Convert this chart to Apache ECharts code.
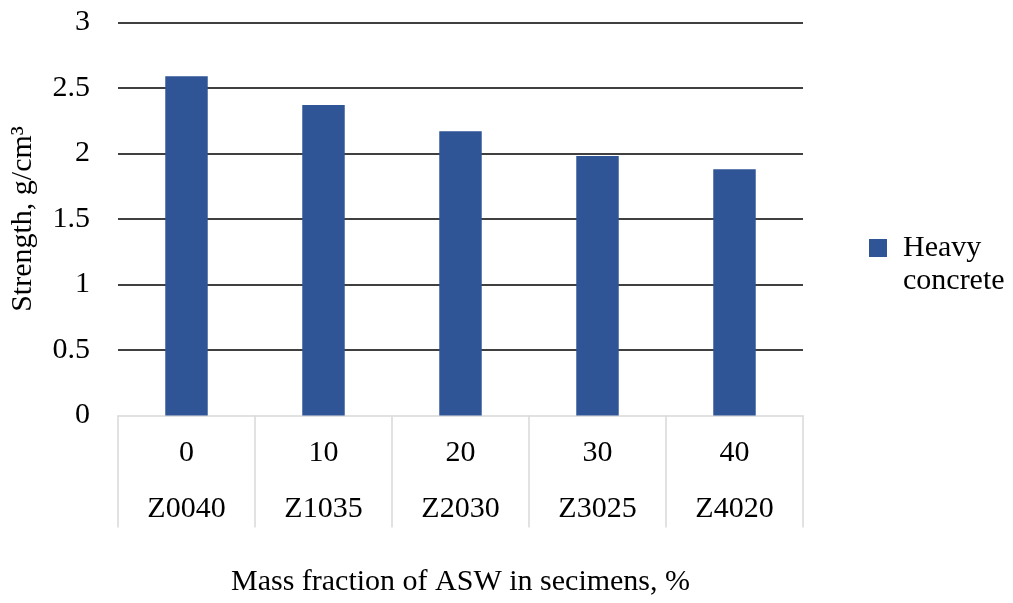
<!DOCTYPE html>
<html>
<head>
<meta charset="utf-8">
<script src="https://cdn.jsdelivr.net/npm/echarts@6/dist/echarts.min.js"></script>
<style>html,body{margin:0;padding:0;background:#fff;}#c{width:1013px;height:603px;}</style>
</head>
<body>
<div id="c"></div>
<script>
const fractions = ['0', '10', '20', '30', '40'];
const specimens = ['Z0040', 'Z1035', 'Z2030', 'Z3025', 'Z4020'];
const heavyConcrete = [2.59, 2.37, 2.17, 1.98, 1.88];
const seriesName = 'Heavy concrete';
const yTitle = 'Strength, g/cm³';
const xTitle = 'Mass fraction of ASW in secimens, %';

const FONT = 'Liberation Serif';
const FS = 30;
const chart = echarts.init(document.getElementById('c'));
chart.setOption({
  animation: false,
  backgroundColor: '#fff',
  textStyle: { fontFamily: FONT, color: '#000' },
  grid: { left: 118, right: 210, top: 22.5, bottom: 187.5, containLabel: false },
  legend: {
    left: 864, top: 193.5,
    itemWidth: 18, itemHeight: 18,
    icon: 'rect',
    formatter: (name) => {
      const parts = name.split(' ');
      return '{s| }\n' + parts.map(p => '{t|' + p + '}').join('\n');
    },
    textStyle: {
      fontFamily: FONT, fontSize: FS, color: '#000', lineHeight: 33,
      rich: {
        s: { fontFamily: FONT, fontSize: FS, lineHeight: 33 },
        t: { fontFamily: FONT, fontSize: FS, color: '#000', lineHeight: 33, padding: [0, 0, 0, 11] }
      }
    }
  },
  xAxis: [
    {
      type: 'category', data: fractions, position: 'bottom',
      axisLine: { show: true, lineStyle: { color: '#d9d9d9', width: 1.5 } },
      axisTick: { show: true, length: 112, lineStyle: { color: '#d9d9d9', width: 1.5 } },
      axisLabel: { margin: 23, fontFamily: FONT, fontSize: FS, color: '#000' }
    },
    {
      type: 'category', data: specimens, position: 'bottom', offset: 0,
      axisLine: { show: false }, axisTick: { show: false },
      axisLabel: { margin: 79, fontFamily: FONT, fontSize: FS, color: '#000' },
      name: xTitle, nameLocation: 'middle', nameGap: 152,
      nameTextStyle: { fontFamily: FONT, fontSize: FS, color: '#000' }
    }
  ],
  yAxis: {
    type: 'value', min: 0, max: 3, interval: 0.5,
    axisLine: { show: false }, axisTick: { show: false },
    axisLabel: { margin: 28, fontFamily: FONT, fontSize: FS, color: '#000' },
    splitLine: { show: true, showMinLine: false, lineStyle: { color: '#000', width: 1.5 } },
    name: yTitle, nameLocation: 'middle', nameGap: 80, nameRotate: 90,
    nameTextStyle: { fontFamily: FONT, fontSize: FS, color: '#000' }
  },
  series: [{
    name: seriesName, type: 'bar', xAxisIndex: 0,
    data: heavyConcrete, barWidth: '31%',
    itemStyle: { color: '#2F5597' }
  }]
});
</script>
</body>
</html>
